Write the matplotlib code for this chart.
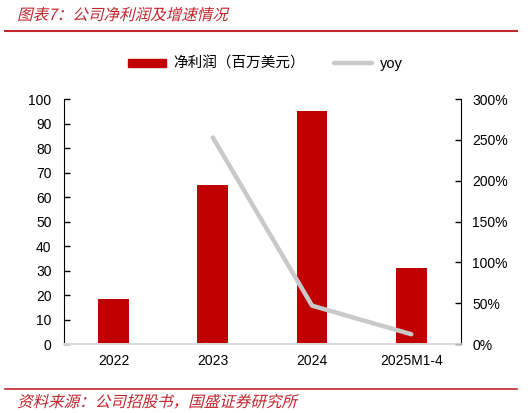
import numpy as np
import matplotlib
matplotlib.use('Agg')
import matplotlib.pyplot as plt
from matplotlib.lines import Line2D
from matplotlib.patches import Patch, PathPatch
from matplotlib.textpath import TextPath
from matplotlib.font_manager import FontProperties
from matplotlib.transforms import Affine2D

plt.rcParams['font.family'] = ['Liberation Sans', 'Noto Sans CJK SC', 'DejaVu Sans']

# data
categories = ['2022', '2023', '2024', '2025M1-4']
net_profit = [18.5, 65.0, 95.3, 31.2]        # 百万美元
yoy = [np.nan, 253.0, 47.0, 12.0]            # %
left_ticks = list(range(0, 101, 10))
right_ticks = list(range(0, 301, 50))

red = '#C00000'
grey = '#C9C9C9'
title_red = '#C0262D'
DPI = 100

fig = plt.figure(figsize=(5.31, 4.13), dpi=DPI)
ax = fig.add_axes([0.1205, 0.167, 0.7475, 0.593])
ax2 = ax.twinx()

x = np.arange(len(categories))
ax.bar(x, net_profit, width=0.31, color=red, zorder=2)
ax2.plot(x, yoy, color=grey, lw=3.2, solid_capstyle='round', zorder=3)

ax.set_xlim(-0.5, len(categories) - 0.5)
ax.set_ylim(0, 100)
ax2.set_ylim(0, 300)
ax.set_yticks(left_ticks)
ax2.set_yticks(right_ticks)
ax2.set_yticklabels(['%d%%' % v for v in right_ticks])
ax.set_xticks(x)
ax.set_xticklabels(categories)

for a in (ax, ax2):
    a.spines['top'].set_visible(False)
    a.spines['bottom'].set_color('#D9D9D9')
    a.spines['bottom'].set_linewidth(1.2)
    a.tick_params(axis='y', direction='in', length=4, width=1, labelsize=10, colors='black')
ax.spines['right'].set_visible(False)
ax2.spines['left'].set_visible(False)
ax.tick_params(axis='x', length=0, labelsize=10, pad=7)
ax.tick_params(axis='y', pad=9)
ax2.tick_params(axis='y', pad=8)

# legend
handles = [Patch(color=red), Line2D([0], [0], color=grey, lw=3.2, solid_capstyle='round')]
fig.legend(handles, ['净利润（百万美元）', 'yoy'], loc='center', bbox_to_anchor=(0.5, 0.845),
           ncol=2, frameon=False, fontsize=10.5, handlelength=2.6, handleheight=0.5,
           columnspacing=2.0, handletextpad=0.5)


def slanted_text(s, px, py, size):
    # italic look for CJK text: glyph outlines sheared to the right
    fp = FontProperties(family='Noto Sans CJK SC')
    path = TextPath((0, 0), s, size=size, prop=fp)
    tr = Affine2D().skew_deg(14, 0).scale(DPI / 72.0).translate(px, py)
    fig.add_artist(PathPatch(path, transform=tr, color=title_red, lw=0))


# title, source and red rules (pixel positions, origin bottom left)
slanted_text('图表7：公司净利润及增速情况', 17, 413 - 20, 11.2)
fig.add_artist(Line2D([0.0094, 0.974], [0.925, 0.925], color=title_red, lw=1.5))
fig.add_artist(Line2D([0.0094, 0.974], [0.058, 0.058], color=title_red, lw=1.2))
slanted_text('资料来源：公司招股书，国盛证券研究所', 17, 413 - 407, 11.2)

fig.savefig('out.png', dpi=DPI)
